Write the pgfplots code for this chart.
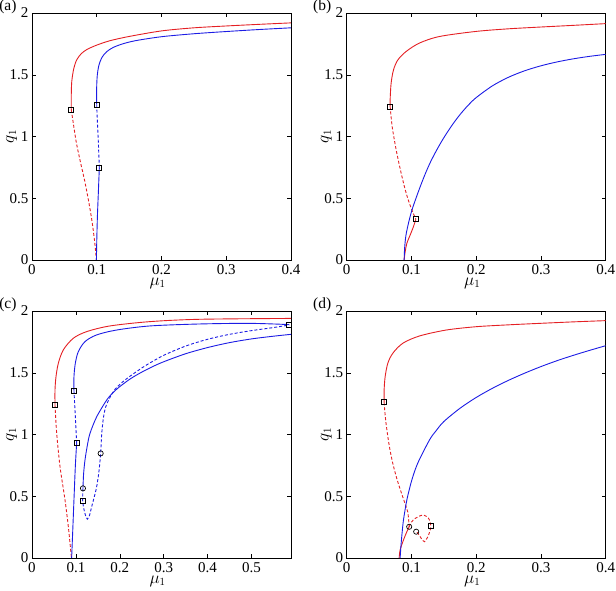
\documentclass[border=0pt]{standalone}
\usepackage{fontspec}
\setmainfont{Liberation Serif}
\usepackage{pgfplots}
\pgfplotsset{compat=1.18}
\definecolor{mred}{RGB}{228,32,36}
\definecolor{mblue}{RGB}{28,28,228}
\pgfplotsset{
  panel/.style={
    width=259pt, height=247pt, scale only axis,
    xmin=0, ymin=0, ymax=2,
    ytick={0,0.5,1,1.5,2},
    /pgf/number format/assume math mode=true,
    tick label style={font=\fontsize{15}{17}\selectfont},
    xticklabel style={inner sep=1pt, yshift=-3pt},
    xlabel={$\mu_1$}, ylabel={$q_1$},
    every axis x label/.style={at={(axis description cs:0.485,0)}, anchor=north, yshift=-17.5pt, inner sep=0pt, font=\fontsize{16}{18}\selectfont},
    every axis y label/.style={at={(axis description cs:-0.079,0.5)}, anchor=center, rotate=90, inner sep=0pt, font=\fontsize{16}{18}\selectfont},
    tick align=inside, major tick length=4pt,
    axis line style={line width=0.7pt},
    every tick/.style={black, line width=0.5pt},
    title style={at={(0,1)}, anchor=east, xshift=-12pt, yshift=0pt, font=\fontsize{15.5}{17}\selectfont},
    every axis plot/.append style={line width=0.9pt},
  },
  sol/.style={smooth, tension=0.5},
  das/.style={smooth, tension=0.5, dash pattern=on 3pt off 2pt},
  sq/.style={only marks, mark=square, mark size=2.5pt, black, mark options={line width=0.7pt}},
  ci/.style={only marks, mark=o, mark size=2.6pt, black, mark options={line width=0.7pt}},
}
\begin{document}
\begin{tikzpicture}
\path[use as bounding box] (0,0) rectangle (616pt,590pt);
% (a)
\begin{axis}[panel, at={(32pt,330pt)}, anchor=south west, xmax=0.4, xtick={0,0.1,0.2,0.3,0.4}, title={(a)}]
\addplot[mred, sol] coordinates {(0.0607,1.215)(0.0607,1.35)(0.0615,1.45)(0.0645,1.55)(0.069,1.62)(0.076,1.67)(0.085,1.705)(0.1,1.74)(0.12,1.775)(0.15,1.81)(0.2,1.855)(0.25,1.88)(0.3,1.895)(0.35,1.908)(0.4,1.92)};
\addplot[mred, das] coordinates {(0.0607,1.215)(0.064,1.1)(0.0685,0.95)(0.0745,0.8)(0.081,0.65)(0.087,0.49)(0.0925,0.32)(0.0965,0.16)(0.0995,0)};
\addplot[mblue, sol] coordinates {(0.0995,0)(0.1,0.15)(0.101,0.35)(0.1025,0.55)(0.104,0.748)};
\addplot[mblue, das] coordinates {(0.104,0.748)(0.1025,0.95)(0.101,1.12)(0.0999,1.26)};
\addplot[mblue, sol] coordinates {(0.0999,1.26)(0.0999,1.40)(0.1009,1.50)(0.1035,1.58)(0.108,1.64)(0.115,1.685)(0.125,1.72)(0.14,1.75)(0.16,1.776)(0.2,1.808)(0.25,1.832)(0.3,1.85)(0.35,1.866)(0.4,1.88)};
\addplot[sq] coordinates {(0.0607,1.215)(0.0999,1.26)(0.104,0.748)};
\end{axis}
% (b)
\begin{axis}[panel, at={(346.7pt,330pt)}, anchor=south west, xmax=0.4, xtick={0,0.1,0.2,0.3,0.4}, title={(b)}]
\addplot[mred, sol] coordinates {(0.0671,1.243)(0.0671,1.30)(0.0686,1.432)(0.0723,1.54)(0.079,1.62)(0.0919,1.689)(0.1125,1.757)(0.1435,1.81)(0.2,1.851)(0.25,1.872)(0.298,1.886)(0.35,1.90)(0.4,1.914)};
\addplot[mred, das] coordinates {(0.0671,1.243)(0.0702,1.081)(0.0764,0.892)(0.0841,0.703)(0.0919,0.54)(0.0996,0.419)(0.1068,0.33)};
\addplot[mred, sol] coordinates {(0.1068,0.33)(0.1031,0.27)(0.098,0.202)(0.0929,0.135)(0.0903,0.067)(0.0887,0)};
\addplot[mblue, sol] coordinates {(0.0887,0)(0.0895,0.1)(0.0915,0.2)(0.0955,0.3)(0.1005,0.4)(0.107,0.5)(0.114,0.6)(0.1215,0.7)(0.13,0.8)(0.14,0.9)(0.15,0.99)(0.1625,1.09)(0.175,1.1775)(0.1875,1.2525)(0.2,1.315)(0.225,1.41)(0.25,1.48)(0.275,1.5325)(0.3,1.5725)(0.325,1.604)(0.35,1.629)(0.375,1.649)(0.4,1.665)};
\addplot[sq] coordinates {(0.0671,1.243)(0.1068,0.33)};
\end{axis}
% (c)
\begin{axis}[panel, at={(32pt,32pt)}, anchor=south west, xmax=0.59, xtick={0,0.1,0.2,0.3,0.4,0.5}, title={(c)}]
\addplot[mred, sol] coordinates {(0.0524,1.24)(0.0524,1.361)(0.0547,1.469)(0.06,1.577)(0.0713,1.685)(0.094,1.779)(0.1245,1.833)(0.1776,1.879)(0.2687,1.914)(0.3825,1.933)(0.59,1.94)};
\addplot[mred, das] coordinates {(0.0524,1.24)(0.0562,1.011)(0.0638,0.741)(0.0751,0.472)(0.0827,0.256)(0.0888,0.04)(0.0903,0)};
\addplot[mblue, sol] coordinates {(0.0903,0)(0.0926,0.202)(0.0956,0.472)(0.0987,0.741)(0.1017,0.93)};
\addplot[mblue, das] coordinates {(0.1017,0.93)(0.0987,1.146)(0.0956,1.353)};
\addplot[mblue, sol] coordinates {(0.0956,1.353)(0.0956,1.469)(0.0987,1.577)(0.1055,1.671)(0.1207,1.752)(0.147,1.806)(0.1928,1.846)(0.2687,1.879)(0.3825,1.895)(0.4964,1.90)(0.586,1.89)};
\addplot[mblue, sol] coordinates {(0.1161,0.564)(0.1175,0.68)(0.1207,0.793)(0.126,0.91)(0.132,1.008)(0.1473,1.143)(0.17,1.278)(0.185,1.34)(0.2,1.388)(0.225,1.453)(0.25,1.505)(0.275,1.55)(0.3,1.589)(0.35,1.654)(0.4,1.704)(0.45,1.744)(0.5,1.774)(0.55,1.796)(0.59,1.811)};
\addplot[mblue, das] coordinates {(0.1161,0.564)(0.1154,0.466)(0.118,0.40)(0.1215,0.35)(0.126,0.315)(0.131,0.345)(0.1359,0.415)(0.1415,0.49)(0.1473,0.577)(0.1525,0.7)(0.1564,0.847)(0.1587,1.0)(0.1625,1.13)(0.1676,1.22)(0.1776,1.30)(0.19,1.37)(0.208,1.43)(0.2307,1.491)(0.26,1.561)(0.3,1.641)(0.35,1.716)(0.4,1.771)(0.45,1.811)(0.5,1.841)(0.55,1.866)(0.586,1.887)};
\addplot[sq] coordinates {(0.0524,1.24)(0.0956,1.353)(0.1017,0.93)(0.1154,0.466)(0.586,1.887)};
\addplot[ci] coordinates {(0.1161,0.564)(0.1564,0.847)};
\end{axis}
% (d)
\begin{axis}[panel, at={(346.7pt,32pt)}, anchor=south west, xmax=0.4, xtick={0,0.1,0.2,0.3,0.4}, title={(d)}]
\addplot[mred, sol] coordinates {(0.0578,1.261)(0.0578,1.361)(0.0594,1.469)(0.0635,1.577)(0.0712,1.658)(0.0867,1.739)(0.1125,1.798)(0.1538,1.846)(0.2003,1.873)(0.25,1.888)(0.2983,1.900)(0.35,1.912)(0.4,1.922)};
\addplot[mred, das] coordinates {(0.0578,1.261)(0.0595,1.15)(0.062,1.04)(0.066,0.9)(0.071,0.77)(0.077,0.65)(0.083,0.55)(0.0875,0.48)(0.0915,0.42)(0.0944,0.37)(0.0958,0.3)(0.0965,0.253)};
\addplot[mred, das] coordinates {(0.0965,0.253)(0.1,0.29)(0.105,0.318)(0.1109,0.336)(0.1186,0.348)(0.1264,0.321)(0.130,0.259)(0.1264,0.186)(0.1202,0.132)(0.115,0.16)(0.11,0.2)(0.1073,0.213)};
\addplot[mred, sol] coordinates {(0.081,0)(0.0825,0.065)(0.0877,0.146)(0.0929,0.213)(0.0965,0.253)};
\addplot[mblue, sol] coordinates {(0.0825,0)(0.0838,0.1)(0.0855,0.2)(0.0877,0.308)(0.0929,0.47)(0.1006,0.632)(0.1099,0.77)(0.128,0.957)(0.138,1.03)(0.15,1.105)(0.175,1.2125)(0.2,1.3)(0.225,1.374)(0.25,1.439)(0.275,1.497)(0.3,1.55)(0.325,1.598)(0.35,1.641)(0.375,1.681)(0.4,1.719)};
\addplot[sq] coordinates {(0.0578,1.261)(0.130,0.259)};
\addplot[ci] coordinates {(0.0965,0.253)(0.1073,0.213)};
\end{axis}
\end{tikzpicture}
\end{document}
